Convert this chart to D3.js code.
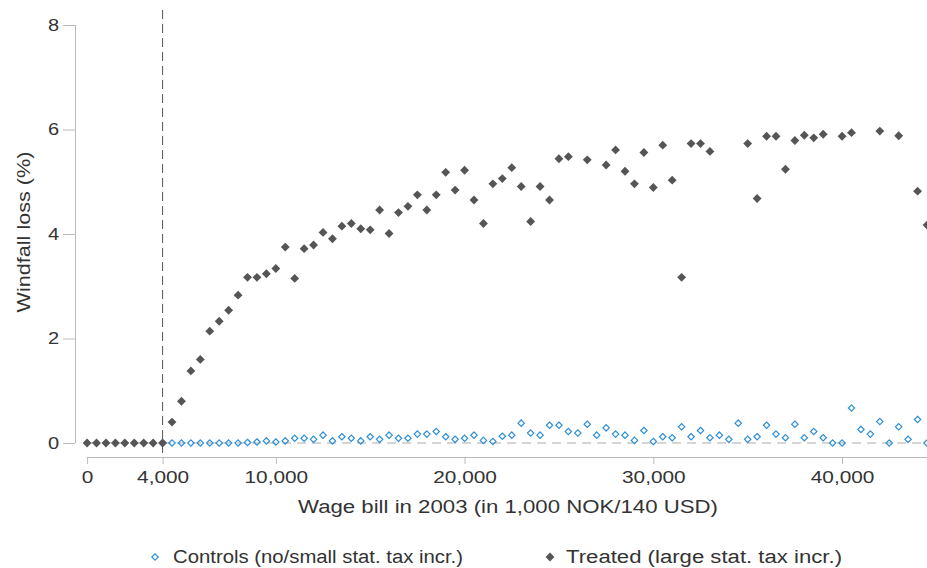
<!DOCTYPE html>
<html><head><meta charset="utf-8">
<script src="https://cdn.jsdelivr.net/npm/d3@7"></script>
<style>body{margin:0;background:#fff}text{font-family:"Liberation Sans",Arial,sans-serif;fill:#333}</style>
</head><body><svg id="c" width="927" height="568"></svg>
<script>
const treatedX = [0,500,1000,1500,2000,2500,3000,3500,4000,4500,5000,5500,6000,6500,7000,7500,8000,8500,9000,9500,10000,10500,11000,11500,12000,12500,13000,13500,14000,14500,15000,15500,16000,16500,17000,17500,18000,18500,19000,19500,20000,20500,21000,21500,22000,22500,23000,23500,24000,24500,25000,25500,26500,27500,28000,28500,29000,29500,30000,30500,31000,31500,32000,32500,33000,35000,35500,36000,36500,37000,37500,38000,38500,39000,40000,40500,42000,43000,44000,44500];
const treatedY = [0,0,0,0,0,0,0,0,0,0.40,0.80,1.38,1.60,2.14,2.33,2.54,2.83,3.17,3.17,3.24,3.34,3.75,3.15,3.72,3.79,4.03,3.91,4.15,4.20,4.10,4.08,4.46,4.01,4.41,4.53,4.75,4.46,4.75,5.18,4.84,5.22,4.65,4.20,4.96,5.06,5.27,4.91,4.24,4.91,4.65,5.44,5.48,5.42,5.32,5.61,5.20,4.96,5.56,4.89,5.70,5.03,3.17,5.73,5.73,5.58,5.73,4.68,5.87,5.87,5.24,5.79,5.89,5.84,5.91,5.87,5.94,5.97,5.88,4.82,4.17];
const controlX = d3.range(4000, 44501, 500);
const controlY = [0,0,0,0,0,0,0,0,0,0.01,0.02,0.04,0.02,0.04,0.09,0.09,0.07,0.15,0.04,0.12,0.09,0.04,0.12,0.07,0.15,0.09,0.09,0.17,0.17,0.22,0.12,0.07,0.09,0.15,0.05,0.03,0.13,0.15,0.38,0.19,0.15,0.34,0.34,0.22,0.19,0.36,0.15,0.29,0.17,0.15,0.05,0.24,0.03,0.12,0.10,0.31,0.12,0.24,0.10,0.15,0.07,0.38,0.07,0.12,0.34,0.17,0.10,0.36,0.10,0.22,0.10,0.0,0.0,0.67,0.26,0.17,0.41,0.0,0.31,0.07,0.45,0.0];
const xTicks = [0,4000,10000,20000,30000,40000];
const yTicks = [0,2,4,6,8];
const cutoff = 4000;

const svg = d3.select("#c");
const x = d3.scaleLinear().domain([-640,44500]).range([75,927]);
const y = d3.scaleLinear().domain([0,8]).range([443,25]);

function widen(sel, f){ sel.each(function(){ const w=this.getComputedTextLength(); d3.select(this).attr("textLength",w*f).attr("lengthAdjust","spacingAndGlyphs"); }); }

const ya = svg.append("g").attr("transform","translate(75,0)")
  .call(d3.axisLeft(y).tickValues(yTicks).tickSize(12).tickPadding(4));
ya.select(".domain").attr("stroke","#bbb").attr("d","M0.5,"+y(8)+"V"+y(0));
ya.selectAll("line").attr("stroke","#bbb");
ya.selectAll("text").style("font-size","16px").attr("fill","#333");
widen(ya.selectAll("text"),1.25);
const xa = svg.append("g").attr("transform","translate(0,457)")
  .call(d3.axisBottom(x).tickValues(xTicks).tickFormat(d3.format(",")).tickSize(7).tickSizeOuter(0).tickPadding(8));
xa.select(".domain").attr("stroke","#bbb").attr("d","M"+x(0)+",0.5H927");
xa.selectAll("line").attr("stroke","#bbb");
xa.selectAll("text").style("font-size","16px").attr("fill","#333");
widen(xa.selectAll("text"),1.3);

svg.append("line").attr("x1",x(0)).attr("x2",927).attr("y1",y(0)).attr("y2",y(0))
  .attr("stroke","#aaa").attr("stroke-dasharray","9,6");
svg.append("line").attr("x1",x(cutoff)).attr("x2",x(cutoff)).attr("y1",10).attr("y2",457)
  .attr("stroke","#555").attr("stroke-dasharray","9,5");

const sym = d3.symbol().type(d3.symbolDiamond2);
svg.append("g").selectAll("path").data(controlX.map((v,i)=>[v,controlY[i]])).join("path")
  .attr("d",sym.size(26)()).attr("transform",d=>`translate(${x(d[0])},${y(d[1])})`)
  .attr("fill","none").attr("stroke","#2e8fd6").attr("stroke-width",1.2);
svg.append("g").selectAll("path").data(treatedX.map((v,i)=>[v,treatedY[i]])).join("path")
  .attr("d",d3.symbol().type(d3.symbolDiamond2).size(50)()).attr("transform",d=>`translate(${x(d[0])},${y(d[1])})`)
  .attr("fill","#555");

svg.append("text").attr("x",298).attr("y",513).style("font-size","18px")
  .attr("textLength",420).attr("lengthAdjust","spacingAndGlyphs")
  .text("Wage bill in 2003 (in 1,000 NOK/140 USD)");
svg.append("text").attr("transform","translate(30,232) rotate(-90)").attr("text-anchor","middle").style("font-size","18px")
  .attr("textLength",161).attr("lengthAdjust","spacingAndGlyphs")
  .text("Windfall loss (%)");

svg.append("path").attr("d",sym.size(26)()).attr("transform","translate(155,557)")
  .attr("fill","none").attr("stroke","#2e8fd6").attr("stroke-width",1.2);
svg.append("text").attr("x",173).attr("y",563).style("font-size","18px")
  .attr("textLength",290).attr("lengthAdjust","spacingAndGlyphs").text("Controls (no/small stat. tax incr.)");
svg.append("path").attr("d",d3.symbol().type(d3.symbolDiamond2).size(50)()).attr("transform","translate(550,557)").attr("fill","#555");
svg.append("text").attr("x",566).attr("y",563).style("font-size","18px")
  .attr("textLength",276).attr("lengthAdjust","spacingAndGlyphs").text("Treated (large stat. tax incr.)");
</script></body></html>
